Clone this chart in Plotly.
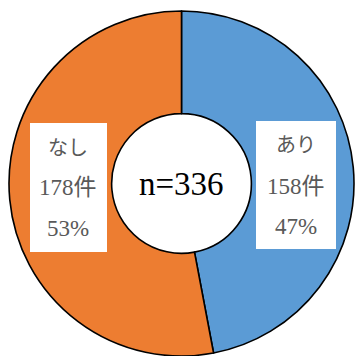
import plotly.graph_objects as go

labels = ["あり", "なし"]
counts = [158, 178]
percents = [47, 53]
colors = ["#5B9BD5", "#ED7D31"]
total_label = "n=336"

W, H = 355, 356

fig = go.Figure(go.Pie(
    labels=labels,
    values=counts,
    hole=0.405,
    sort=False,
    direction="clockwise",
    rotation=0,
    textinfo="none",
    hoverinfo="label+value+percent",
    marker=dict(colors=colors, line=dict(color="black", width=1.6)),
    domain=dict(x=[8 / W, 1], y=[0, 1 - 11 / H]),
    showlegend=False,
))

def px(x):
    return x / W

def py(y):
    return 1 - y / H

# label boxes (right: あり, left: なし)
boxes = [
    dict(x0=256, x1=336, y0=121, y1=249, cx=296, lines_y=[145, 186, 226]),
    dict(x0=30, x1=107, y0=123, y1=252, cx=68, lines_y=[148, 188, 228]),
]
font_fam = "Liberation Serif, Noto Sans CJK JP, serif"
line_sizes = [20, 23, 23]
shapes = []
annotations = []
for i, b in enumerate(boxes):
    shapes.append(dict(type="rect", xref="paper", yref="paper",
                       x0=px(b["x0"]), x1=px(b["x1"]), y0=py(b["y1"]), y1=py(b["y0"]),
                       fillcolor="white", line=dict(width=0), layer="above"))
    texts = [labels[i], f"{counts[i]}件", f"{percents[i]}%"]
    for t, yy, fs in zip(texts, b["lines_y"], line_sizes):
        annotations.append(dict(text=t, x=px(b["cx"]), y=py(yy), xref="paper", yref="paper",
                                showarrow=False, xanchor="center", yanchor="middle",
                                font=dict(family=font_fam, size=fs, color="#595959")))

annotations.append(dict(text=total_label, x=px(181.5), y=py(184), xref="paper", yref="paper",
                        showarrow=False, xanchor="center", yanchor="middle",
                        font=dict(family=font_fam, size=33, color="black")))

fig.update_layout(
    width=W, height=H,
    margin=dict(l=0, r=0, t=0, b=0),
    paper_bgcolor="white",
    plot_bgcolor="white",
    shapes=shapes,
    annotations=annotations,
)

fig.write_html("out.html")
